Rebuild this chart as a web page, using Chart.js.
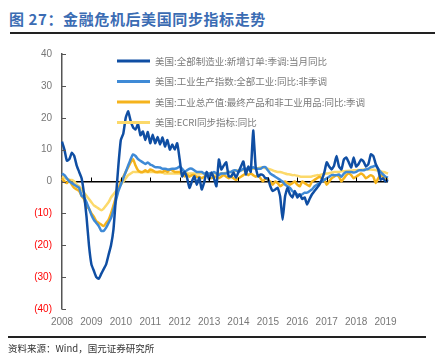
<!doctype html>
<html>

<head>
  <meta charset="UTF-8">
  <script src="https://cdn.jsdelivr.net/npm/chart.js"></script>
  <style>
    body { margin: 0; background: #fff; }
    #wrap { position: relative; width: 435px; height: 354px; overflow: hidden; }
    #title { position: absolute; left: 9px; top: 8px; font: bold 15px "Noto Sans CJK SC", sans-serif; color: #3b6cb3; letter-spacing: 0.6px; }
    #rule1 { position: absolute; left: 10px; top: 32px; width: 425px; height: 2px; background: #222; }
    #rule2 { position: absolute; left: 8px; top: 336px; width: 418px; height: 2px; background: #222; }
    #source { position: absolute; left: 8px; top: 341px; font: 9.5px "Noto Sans CJK SC", sans-serif; color: #333; }
    canvas { position: absolute; left: 0; top: 0; }
  </style>
</head>

<body>
  <div id="wrap">
    <div id="title">图 27：金融危机后美国同步指标走势</div>
    <div id="rule1"></div>
    <canvas id="chart" width="435" height="354"></canvas>
    <div id="rule2"></div>
    <div id="source">资料来源：Wind，国元证券研究所</div>
  </div>

<script>
  // monthly data, 2008-01 .. 2019-02
  const years = ['2008', '2009', '2010', '2011', '2012', '2013', '2014', '2015', '2016', '2017', '2018', '2019'];
  const yTicks = [-40, -30, -20, -10, 0, 10, 20, 30, 40];

  const seriesNames = [
    '美国:全部制造业:新增订单:季调:当月同比',
    '美国:工业生产指数:全部工业:同比:非季调',
    '美国:工业总产值:最终产品和非工业用品:同比:季调',
    '美国:ECRI同步指标:同比'
  ];

  const newOrders = [
    12.5, 10, 6.5, 7, 9, 8, 5, 3, 1, -4, -11, -20,
    -26, -28, -30, -30.5, -29, -27.5, -26, -23, -20, -15, -5, 5,
    13, 15, 20, 22, 19, 17, 16.3, 18, 14.5, 15.7, 13, 15.5,
    12, 14.7, 12, 14, 11.6, 13.8, 11, 13, 10, 11.6, 10, 12,
    7, 1.6, 3.1, 1.2, -2, 0, 1.6, -1, 1.2, -2.5, -0.3, 3,
    0.6, 2.8, 1, -1.5, 6.9, 3.8, 5, 6, 1.6, 1.6, 2.8, 1.2,
    3, 4.7, 6.3, 2.2, 4.7, 3, 16, 4.7, 1.6, 2.2, 2, 1,
    1, -1.5, -3, -2.5, -2, -4.7, -12, -4.7, -2, -4, -5, -3,
    -5, -4, -5.5, -5, -7.2, -5.5, -4, -3, -2, -1, 0.6, 2.8,
    6, 4.7, 3.8, 5, 8, 4.7, 3.8, 6.9, 7.5, 6, 4.4, 7.5,
    4.7, 5.5, 6.9, 6.3, 4.7, 5.5, 8.5, 8, 5.5, 3.8, 0.6, 1,
    0, 0.5
  ];

  const industrialProd = [
    2.5, 2, 1, 0, -0.5, -1, -1.5, -2, -4.5, -5, -6.5, -8.5,
    -10.5, -12, -13, -14, -15.5, -15.5, -14.5, -13, -11.5, -9, -6, -3,
    -1, 1, 3, 5, 7, 8.5, 8, 7, 6.5, 6, 5.5, 6,
    5.3, 5, 4.5, 4.5, 4.4, 4, 4, 3.8, 3.8, 4, 4, 4.2,
    4.7, 4, 3.1, 3.5, 4, 4, 3.5, 3, 3, 3, 2.5, 2.5,
    2.5, 2.5, 3, 2.5, 2, 2.5, 2.5, 2.5, 3, 3, 3.5, 3.5,
    3, 3.5, 4, 4, 4, 4, 4.5, 4, 4, 4, 4.5, 4.5,
    3.5, 2.5, 2, 1.5, 1, 0.5, 0, -1, -1.5, -2, -3, -3.5,
    -4, -4.5, -4, -3.5, -3.5, -3, -2.5, -1.5, -1, -0.5, 0, 0.5,
    1, 1.5, 2, 2, 2, 2.2, 1.5, 2.5, 3, 3, 3, 2.8,
    3, 3.5, 3.5, 3.5, 3.8, 4, 4.5, 4.7, 5, 4, 3, 2.2,
    1.5, 1.2
  ];

  const finalProducts = [
    1, 0, -0.5, 0.5, -1, -2, -2.5, -3, -4.5, -5.5, -8, -8.5,
    -10, -11, -12.5, -13, -13.5, -14, -13, -12, -10, -7.5, -5, -2.5,
    0, 1.5, 3, 4.5, 6, 7, 5, 3.5, 3, 3, 3.5, 3,
    3.8, 3.5, 3, 3, 3.1, 3, 3.5, 3, 3.8, 3.5, 3, 3,
    3, 2.5, 1.6, 2.2, 1.5, 2, 2, 1.5, 1.5, 1, 1.5, 2,
    1.5, 1, 1.5, 1.5, 1, 1.5, 2, 1.5, 1, 1.5, 1, 0.5,
    1, 1.5, 2, 2.5, 2, 2.5, 2, 1.5, 2, 1, 0, 1,
    0.5, 0, -1, 0, -0.5, -1.5, -1, 0, -0.5, -1, -0.5, 0,
    -1, -1.5, 0, -0.5, -1, -1.5, 0, 0.5, 1, 1.5, 1, 0.5,
    -1, 0, 1, 1.5, 2, 1.5, 0, 1, 2, 2.5, 2, 1,
    1.5, 2, 2.5, 2, 1, 1.5, 2, 1.5, -0.5, 1, 2, 1.5,
    1, 0.5
  ];

  const ecri = [
    1.5, 1.2, 0.8, 0.5, 0.5, 0, -1, -1.5, -2.5, -3.5, -4.5, -5.5,
    -6.5, -7.5, -8, -8.5, -9, -8.5, -7.5, -6.5, -5, -4, -3, -2,
    -1, 0, 1, 2, 2.5, 3, 3, 3, 3, 3, 3, 3,
    3, 3, 3, 2.8, 2.8, 2.8, 2.5, 2.5, 2.5, 2.5, 2.5, 2.5,
    2.5, 2.5, 2.5, 2.5, 2.5, 2.5, 2.5, 2.5, 2.5, 2.5, 2.5, 2.5,
    2.5, 2.5, 2.5, 2.5, 2.5, 2.5, 2.5, 2.8, 3, 3, 3.2, 3.4,
    3.5, 3.5, 3.6, 3.8, 3.8, 4, 4, 4, 4.2, 4.4, 4.4, 4.2,
    4, 3.8, 3.5, 3.2, 3, 3, 2.8, 2.5, 2.3, 2.2, 2, 2,
    1.8, 1.6, 1.5, 1.5, 1.5, 1.5, 1.6, 1.8, 2, 2, 2.2, 2.4,
    2.5, 2.6, 2.8, 3, 3, 3, 3.2, 3.2, 3.3, 3.4, 3.4, 3.5,
    3.5, 3.6, 3.7, 3.8, 3.8, 3.8, 3.8, 3.7, 3.6, 3.4, 3.2, 3,
    2.8, 2.5
  ];

  const colors = ['#0f4ea3', '#3f8ad6', '#f5b31c', '#fcd96a'];

  // month labels, year shown on January only
  const labels = [];
  years.forEach(y => {
    for (let m = 1; m <= 12; m++) labels.push(y + '-' + String(m).padStart(2, '0'));
  });
  labels.length = newOrders.length;

  // legend drawn inside the plot + small inward tick marks
  const extras = {
    id: 'extras',
    afterDatasetsDraw(chart) {
      const ctx = chart.ctx;
      const xs = chart.scales.x, ys = chart.scales.y;
      const area = chart.chartArea;
      ctx.save();
      ctx.strokeStyle = '#555';
      ctx.lineWidth = 1;
      yTicks.forEach(v => {
        const py = Math.round(ys.getPixelForValue(v)) + 0.5;
        ctx.beginPath();
        ctx.moveTo(area.left, py);
        ctx.lineTo(area.left + 4, py);
        ctx.stroke();
      });
      const y0 = ys.getPixelForValue(0);
      ctx.strokeStyle = '#000';
      labels.forEach((l, i) => {
        if (i > 0 && l.endsWith('-01')) {
          const px = Math.round(xs.getPixelForValue(i)) + 0.5;
          ctx.beginPath();
          ctx.moveTo(px, y0);
          ctx.lineTo(px, y0 - 4);
          ctx.stroke();
        }
      });

      ctx.font = '9.5px "Noto Sans CJK SC", sans-serif';
      ctx.textBaseline = 'middle';
      ctx.fillStyle = '#7a7a7a';
      seriesNames.forEach((name, i) => {
        const ly = 61 + i * 20.5;
        ctx.strokeStyle = colors[i];
        ctx.lineWidth = 3;
        ctx.beginPath();
        ctx.moveTo(117, ly);
        ctx.lineTo(150, ly);
        ctx.stroke();
        ctx.fillText(name, 155, ly);
      });
      ctx.restore();
    }
  };

  const series = [newOrders, industrialProd, finalProducts, ecri];

  const chart = new Chart(document.getElementById('chart'), {
    type: 'line',
    data: {
      labels: labels,
      datasets: series.map((d, i) => ({
        label: seriesNames[i],
        data: d,
        borderColor: colors[i],
        borderWidth: 2.5,
        pointRadius: 0,
        tension: 0.15,
        order: i
      }))
    },
    options: {
      responsive: false,
      animation: false,
      layout: { padding: { top: 54, bottom: 19, left: 0, right: 47 } },
      plugins: { legend: { display: false }, tooltip: { enabled: false } },
      scales: {
        x: {
          type: 'category',
          offset: false,
          grid: { display: false, drawTicks: false },
          border: { display: false },
          afterFit: s => { s.height = 26; },
          ticks: {
            autoSkip: false,
            maxRotation: 0,
            padding: 7,
            color: '#777',
            font: { family: 'Liberation Sans', size: 10 },
            callback: function (v, i) {
              const l = labels[i];
              return l.endsWith('-01') ? l.slice(0, 4) : '';
            }
          }
        },
        y: {
          min: -40,
          max: 40,
          afterFit: s => { s.width = 62; },
          afterBuildTicks: s => { s.ticks = yTicks.map(v => ({ value: v })); },
          grid: {
            drawTicks: false,
            color: c => (c.tick && c.tick.value === 0 ? '#000' : 'rgba(0,0,0,0)'),
            lineWidth: 1.5
          },
          border: { display: true, color: '#555', width: 1.5 },
          ticks: {
            padding: 10,
            color: c => (c.tick.value < 0 ? '#ff0000' : '#777'),
            font: { family: 'Liberation Sans', size: 10 },
            callback: v => (v < 0 ? '(' + (-v) + ')' : String(v))
          }
        }
      }
    },
    plugins: [extras]
  });
</script>
</body>

</html>
